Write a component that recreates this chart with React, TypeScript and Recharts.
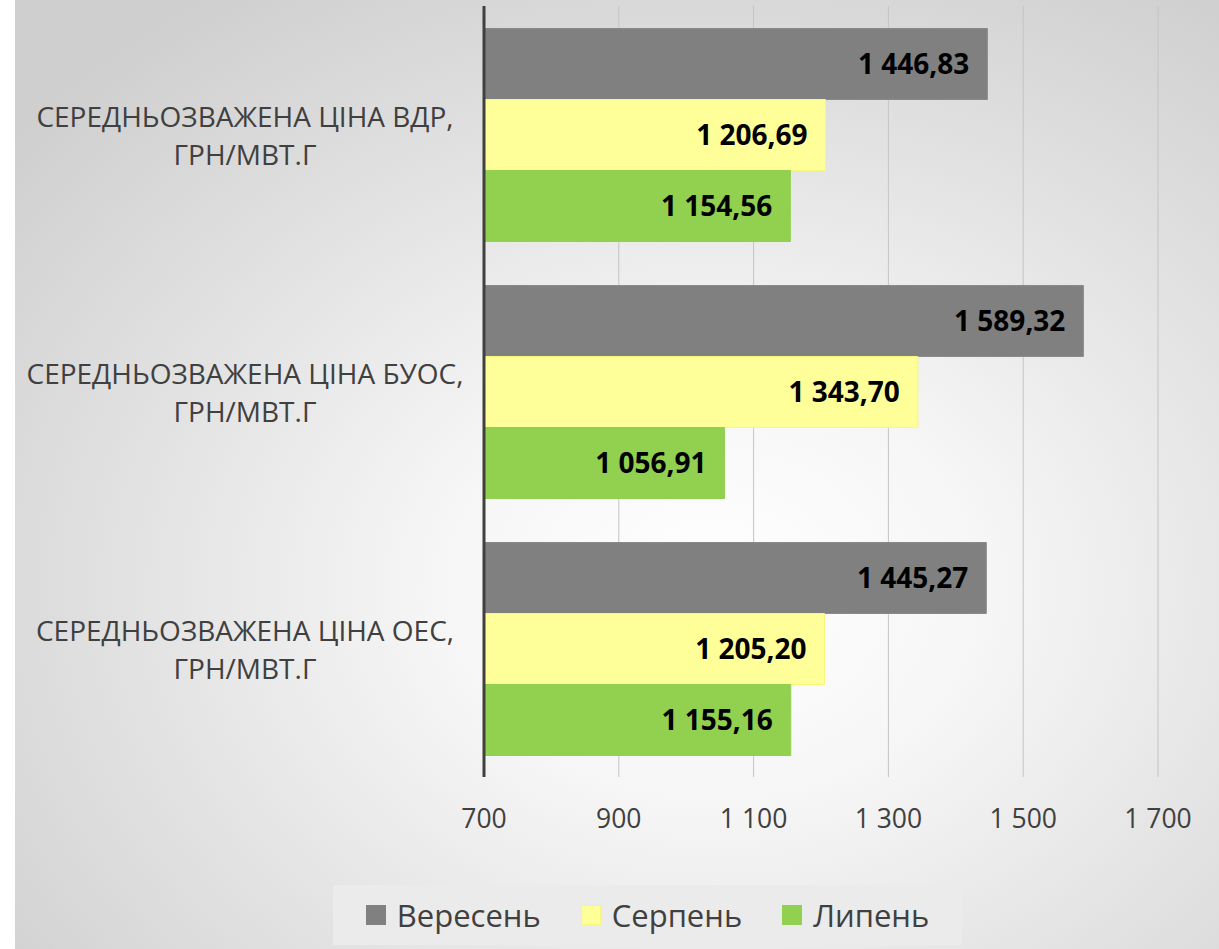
import React from 'react';
import { BarChart, Bar, XAxis, YAxis, CartesianGrid, LabelList, Legend } from 'recharts';

const categories = [
  'СЕРЕДНЬОЗВАЖЕНА ЦІНА ВДР, ГРН/МВТ.Г',
  'СЕРЕДНЬОЗВАЖЕНА ЦІНА БУОС, ГРН/МВТ.Г',
  'СЕРЕДНЬОЗВАЖЕНА ЦІНА ОЕС, ГРН/МВТ.Г',
];
const september = [1446.83, 1589.32, 1445.27];
const august = [1206.69, 1343.7, 1205.2];
const july = [1154.56, 1056.91, 1155.16];
const xTicks = [700, 900, 1100, 1300, 1500, 1700];
const seriesNames = ['Вересень', 'Серпень', 'Липень'];
const seriesColors = ['#808080', '#ffff99', '#92d050'];
const seriesStrokes = ['#8a8a8a', '#f7f77a', '#92d050'];

const data = categories.map((name, i) => ({
  name,
  s0: september[i],
  s1: august[i],
  s2: july[i],
}));

const groupThousands = (s: string) => s.replace(/\B(?=(\d{3})+(?!\d))/g, ' ');
const fmtValue = (v: any) => {
  const [a, b] = Number(v).toFixed(2).split('.');
  return groupThousands(a) + ',' + b;
};
const fmtTick = (v: any) => groupThousands(String(v));

const FONT = '"Open Sans", "Noto Sans", sans-serif';

const CategoryTick = (props: any) => {
  const { y, payload } = props;
  const full: string = payload.value;
  const idx = full.indexOf(', ');
  const lines = idx >= 0 ? [full.slice(0, idx + 1), full.slice(idx + 2)] : [full];
  return (
    <g>
      {lines.map((l, i) => (
        <text
          key={i}
          x={230}
          y={y + (i - (lines.length - 1) / 2) * 38}
          textAnchor="middle"
          dominantBaseline="central"
          fontFamily={FONT}
          fontSize={28}
          fill="#404040"
        >
          {l}
        </text>
      ))}
    </g>
  );
};

const ValueTick = (props: any) => {
  const { x, y, payload } = props;
  return (
    <text
      x={x}
      y={y + 41}
      textAnchor="middle"
      dominantBaseline="central"
      fontFamily={FONT}
      fontSize={26.5}
      fill="#404040"
    >
      {fmtTick(payload.value)}
    </text>
  );
};

const LegendContent = () => (
  <div
    style={{
      width: 629,
      height: 60,
      background: '#ebebeb',
      display: 'flex',
      alignItems: 'center',
      justifyContent: 'center',
      gap: 40,
      fontFamily: FONT,
      fontSize: 31,
      color: '#404040',
    }}
  >
    {seriesNames.map((n, i) => (
      <div key={n} style={{ display: 'flex', alignItems: 'center' }}>
        <div
          style={{
            width: 20,
            height: 20,
            background: seriesColors[i],
            border: i === 1 ? '1px solid #f7f77a' : 'none',
            boxSizing: 'border-box',
            marginRight: 11,
          }}
        />
        <span>{n}</span>
      </div>
    ))}
  </div>
);

export default function App() {
  return (
    <div style={{ position: 'absolute', left: 0, top: 0, width: 1219, height: 949, background: '#ffffff' }}>
      <div
        style={{
          position: 'absolute',
          left: 15,
          top: 0,
          width: 1204,
          height: 949,
          background: 'radial-gradient(ellipse 75% 75% at 58% 62%, #ffffff 0%, #f6f6f6 30%, #e2e2e2 65%, #cfcfcf 100%)',
        }}
      >
        <BarChart
          width={1204}
          height={949}
          data={data}
          layout="vertical"
          margin={{ top: 6, right: 61, left: 0, bottom: 4 }}
          barCategoryGap="8.75%"
          barGap={0}
        >
          <CartesianGrid horizontal={false} vertical={true} stroke="#c4c4c4" strokeWidth={1} />
          <XAxis
            type="number"
            domain={[700, 1700]}
            ticks={xTicks}
            allowDataOverflow
            axisLine={false}
            tickLine={false}
            tickSize={0}
            tickMargin={0}
            height={108}
            tick={<ValueTick />}
            interval={0}
          />
          <YAxis
            type="category"
            dataKey="name"
            width={469}
            axisLine={{ stroke: '#404040', strokeWidth: 3 }}
            tickLine={false}
            tick={<CategoryTick />}
            interval={0}
          />
          <Legend
            verticalAlign="bottom"
            align="left"
            wrapperStyle={{ left: 318, bottom: 4, width: 629, height: 60 }}
            content={<LegendContent />}
          />
          {['s0', 's1', 's2'].map((k, i) => (
            <Bar
              key={k}
              dataKey={k}
              name={seriesNames[i]}
              fill={seriesColors[i]}
              stroke={seriesStrokes[i]}
              strokeWidth={1}
              isAnimationActive={false}
            >
              <LabelList
                dataKey={k}
                position="insideRight"
                offset={18}
                formatter={fmtValue}
                fill="#000000"
                fontFamily={FONT}
                fontWeight="bold"
                fontSize={28}
              />
            </Bar>
          ))}
        </BarChart>
      </div>
    </div>
  );
}
